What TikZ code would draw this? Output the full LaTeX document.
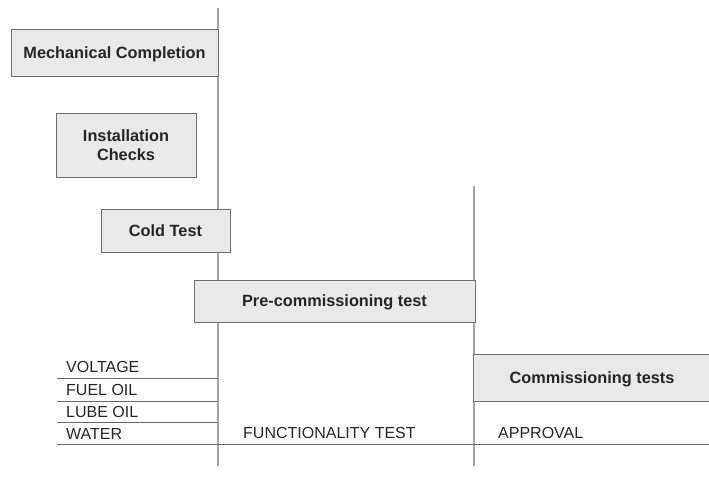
\documentclass[tikz,border=0pt]{standalone}
\usepackage{fontspec}
\setmainfont{Liberation Sans}

\definecolor{boxfill}{HTML}{E9E9E7}
\definecolor{boxedge}{HTML}{6E6E6E}
\definecolor{phaseline}{HTML}{A4A4A4}
\definecolor{rowline}{HTML}{6A6A6A}
\definecolor{ink}{HTML}{262626}

\tikzset{
  stage/.style={draw=boxedge, fill=boxfill, thick, inner sep=0pt, align=center,
    text=ink, text depth=0pt, font=\bfseries\fontsize{16.3}{19.5}\selectfont},
  item/.style={anchor=base west, inner sep=0pt, text=ink,
    font=\fontsize{16}{18}\selectfont},
  phase/.style={draw=phaseline, line width=1.4pt},
  row/.style={draw=rowline, line width=0.9pt}
}

\begin{document}
\begin{tikzpicture}[x=1pt, y=-1pt]
  \useasboundingbox (0,0) rectangle (709,477);

  % phase boundaries
  \coordinate (p1top) at (218,8);
  \coordinate (p1bot) at (218,466);
  \coordinate (p2top) at (474,186);
  \coordinate (p2bot) at (474,466);
  \draw[phase] (p1top) -- (p1bot);
  \draw[phase] (p2top) -- (p2bot);

  % rows under the stages
  \coordinate (r1) at (57,378);
  \coordinate (r2) at (57,401);
  \coordinate (r3) at (57,422);
  \coordinate (r4) at (57,444);
  \coordinate (rend) at (709,444);
  \draw[row] (r1) -- (r1 -| p1top);
  \draw[row] (r2) -- (r2 -| p1top);
  \draw[row] (r3) -- (r3 -| p1top);
  \draw[row] (r4) -- (rend);

  % stages
  \node[stage, minimum width=207pt, minimum height=47pt] (mech) at (114.5,52.5) {Mechanical Completion};
  \node[stage, minimum width=140pt, minimum height=64pt] (install) at (126,145) {Installation\\Checks};
  \node[stage, minimum width=129pt, minimum height=43pt] (cold) at (165.5,230.5) {Cold Test};
  \node[stage, minimum width=281pt, minimum height=42pt] (precomm) at (334.5,301) {Pre-commissioning test};
  \node[stage, minimum width=238pt, minimum height=47pt] (comm) at (592,377.5) {Commissioning tests};

  % labels
  \node[item] (voltage) at (66,372) {VOLTAGE};
  \node[item] (fuel) at (66,395) {FUEL OIL};
  \node[item] (lube) at (66,417) {LUBE OIL};
  \node[item] (water) at (66,439) {WATER};
  \node[item] (func) at (243,438) {FUNCTIONALITY TEST};
  \node[item] (approval) at (498,438) {APPROVAL};
\end{tikzpicture}
\end{document}
